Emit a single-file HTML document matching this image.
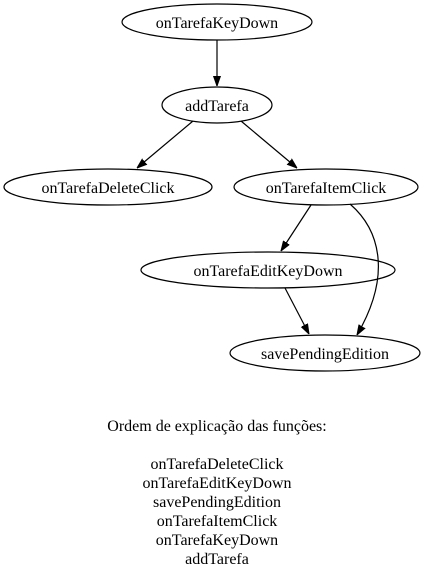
<!DOCTYPE html>
<html><head><meta charset="utf-8"><style>body{margin:0;background:#fff}</style></head><body>
<svg width="434" height="576" viewBox="0 0 434 576" xmlns="http://www.w3.org/2000/svg" font-family="Liberation Serif, serif" font-size="16">
<defs><marker id="a" viewBox="0 0 10 10" refX="10" refY="5" markerWidth="10" markerHeight="10" markerUnits="userSpaceOnUse" orient="auto"><path d="M0,1.5 L10,5 L0,8.5 z" fill="#000" stroke="#000"/></marker></defs>
<g fill="none" stroke="#000" stroke-width="1.2">
<ellipse cx="217" cy="22" rx="95" ry="18"/>
<ellipse cx="217" cy="105" rx="55" ry="18"/>
<ellipse cx="108" cy="187" rx="104" ry="18"/>
<ellipse cx="326" cy="187" rx="92" ry="18"/>
<ellipse cx="268" cy="270" rx="127" ry="18"/>
<ellipse cx="325" cy="353" rx="95" ry="18"/>
<path d="M217,40 L217,86" marker-end="url(#a)"/>
<path d="M193,121 L137,168" marker-end="url(#a)"/>
<path d="M241,121 L297,168" marker-end="url(#a)"/>
<path d="M311,205 L281,251" marker-end="url(#a)"/>
<path d="M285,288 L309,334" marker-end="url(#a)"/>
<path d="M350,204 C380,230 392,275 357,335" marker-end="url(#a)"/>
</g>
<g text-anchor="middle" fill="#000">
<text x="217" y="28">onTarefaKeyDown</text>
<text x="217" y="111">addTarefa</text>
<text x="108" y="193">onTarefaDeleteClick</text>
<text x="326" y="193">onTarefaItemClick</text>
<text x="268" y="276">onTarefaEditKeyDown</text>
<text x="325" y="359">savePendingEdition</text>
<text x="217" y="431">Ordem de explicação das funções:</text>
<text x="217" y="469">onTarefaDeleteClick</text>
<text x="217" y="488">onTarefaEditKeyDown</text>
<text x="217" y="507">savePendingEdition</text>
<text x="217" y="526">onTarefaItemClick</text>
<text x="217" y="545">onTarefaKeyDown</text>
<text x="217" y="564">addTarefa</text>
</g>
</svg>
</body></html>
